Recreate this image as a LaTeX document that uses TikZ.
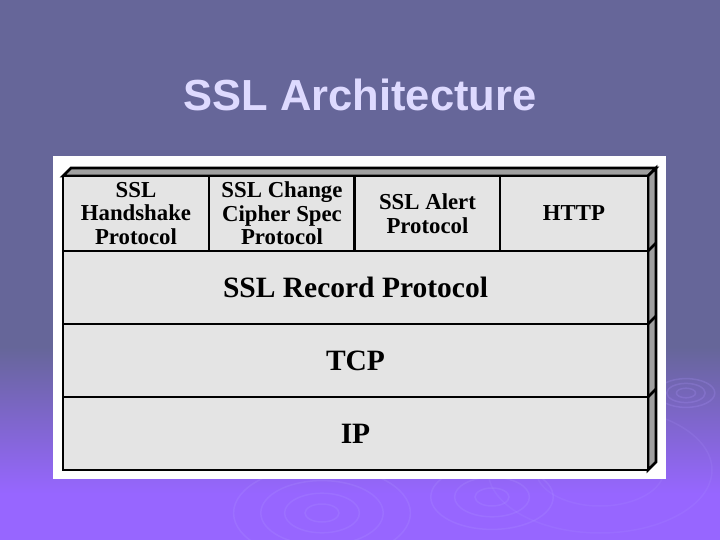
\documentclass[tikz,border=0pt]{standalone}
\usepackage{fontspec}
\setmainfont{Liberation Serif}
\newfontfamily\titlefont{Liberation Sans}
\definecolor{bgtop}{RGB}{102,102,153}
\definecolor{bgbot}{RGB}{151,102,255}
\definecolor{titlec}{RGB}{222,218,255}
\definecolor{cellc}{RGB}{228,228,228}
\definecolor{sidec}{RGB}{160,160,160}
\definecolor{ripple}{RGB}{175,150,255}
\pgfdeclareverticalshading{slidebg}{100bp}{color(0bp)=(bgbot); color(29.3bp)=(bgbot); color(42.9bp)=(bgtop); color(100bp)=(bgtop)}
\tikzset{
  cellbox/.style={draw=black, line width=2.7pt, fill=cellc, inner sep=0pt, outer sep=0pt,
    align=center, font=\bfseries\fontsize{22.8}{23.5}\selectfont},
  toprow/.style={cellbox, minimum width=146pt, minimum height=75pt},
  lastcell/.style={cellbox, minimum width=148pt, minimum height=75pt},
  layerbox/.style={cellbox, minimum width=585pt, minimum height=73pt,
    font=\bfseries\fontsize{29.5}{32}\selectfont},
  sideface/.style={draw=black, line width=2.7pt, fill=sidec, line join=miter},
  ripplering/.style={draw=ripple, opacity=0.22, line width=1.5pt}
}
\begin{document}
\begin{tikzpicture}[x=1pt,y=-1pt]
\useasboundingbox (0,0) rectangle (720,540);
\shade[shading=slidebg] (0,0) rectangle (720,540);
% decorative ripples
\foreach \r in {6,12,18}{\draw[ripplering] (686,393) ellipse ({\r*1.6} and {\r*0.8});}
\foreach \r in {10,22,36,52}{\draw[ripplering] (322,513) ellipse ({\r*1.7} and {\r*0.9});}
\foreach \r in {10,22,36}{\draw[ripplering] (492,497) ellipse ({\r*1.7} and {\r*0.9});}
\foreach \r in {40,70}{\draw[ripplering, opacity=0.15] (600,470) ellipse ({\r*1.6} and {\r*0.9});}
% title
\node[font=\titlefont\bfseries\fontsize{43.5}{50}\selectfont, text=titlec] (title) at (360,95) {SSL Architecture};
% white panel
\fill[white] (53,156) rectangle (666,479);
% 3D faces
\draw[sideface] (63,176) -- (71,168) -- (656,168) -- (648,176) -- cycle;
\draw[sideface] (648,176) -- (656,168) -- (656,462) -- (648,470) -- cycle;
% top row
\node[toprow] (hs) at (136,213.5) {SSL\\Handshake\\Protocol};
\node[toprow] (ccs) at (282,213.5) {SSL Change\\Cipher Spec\\Protocol};
\node[toprow] (alert) at (427.5,213.5) {SSL Alert\\Protocol};
\node[lastcell] (http) at (574,213.5) {HTTP};
% layers
\node[layerbox] (rec) at (355.5,287.5) {SSL Record Protocol};
\node[layerbox] (tcp) at (355.5,360.5) {TCP};
\node[layerbox] (ip) at (355.5,433.5) {IP};
% side ticks
\coordinate (t1) at (656,243);
\coordinate (t2) at (656,316);
\coordinate (t3) at (656,389);
\draw[line width=2.7pt] (rec.north east) -- (t1);
\draw[line width=2.7pt] (tcp.north east) -- (t2);
\draw[line width=2.7pt] (ip.north east) -- (t3);
\end{tikzpicture}
\end{document}
